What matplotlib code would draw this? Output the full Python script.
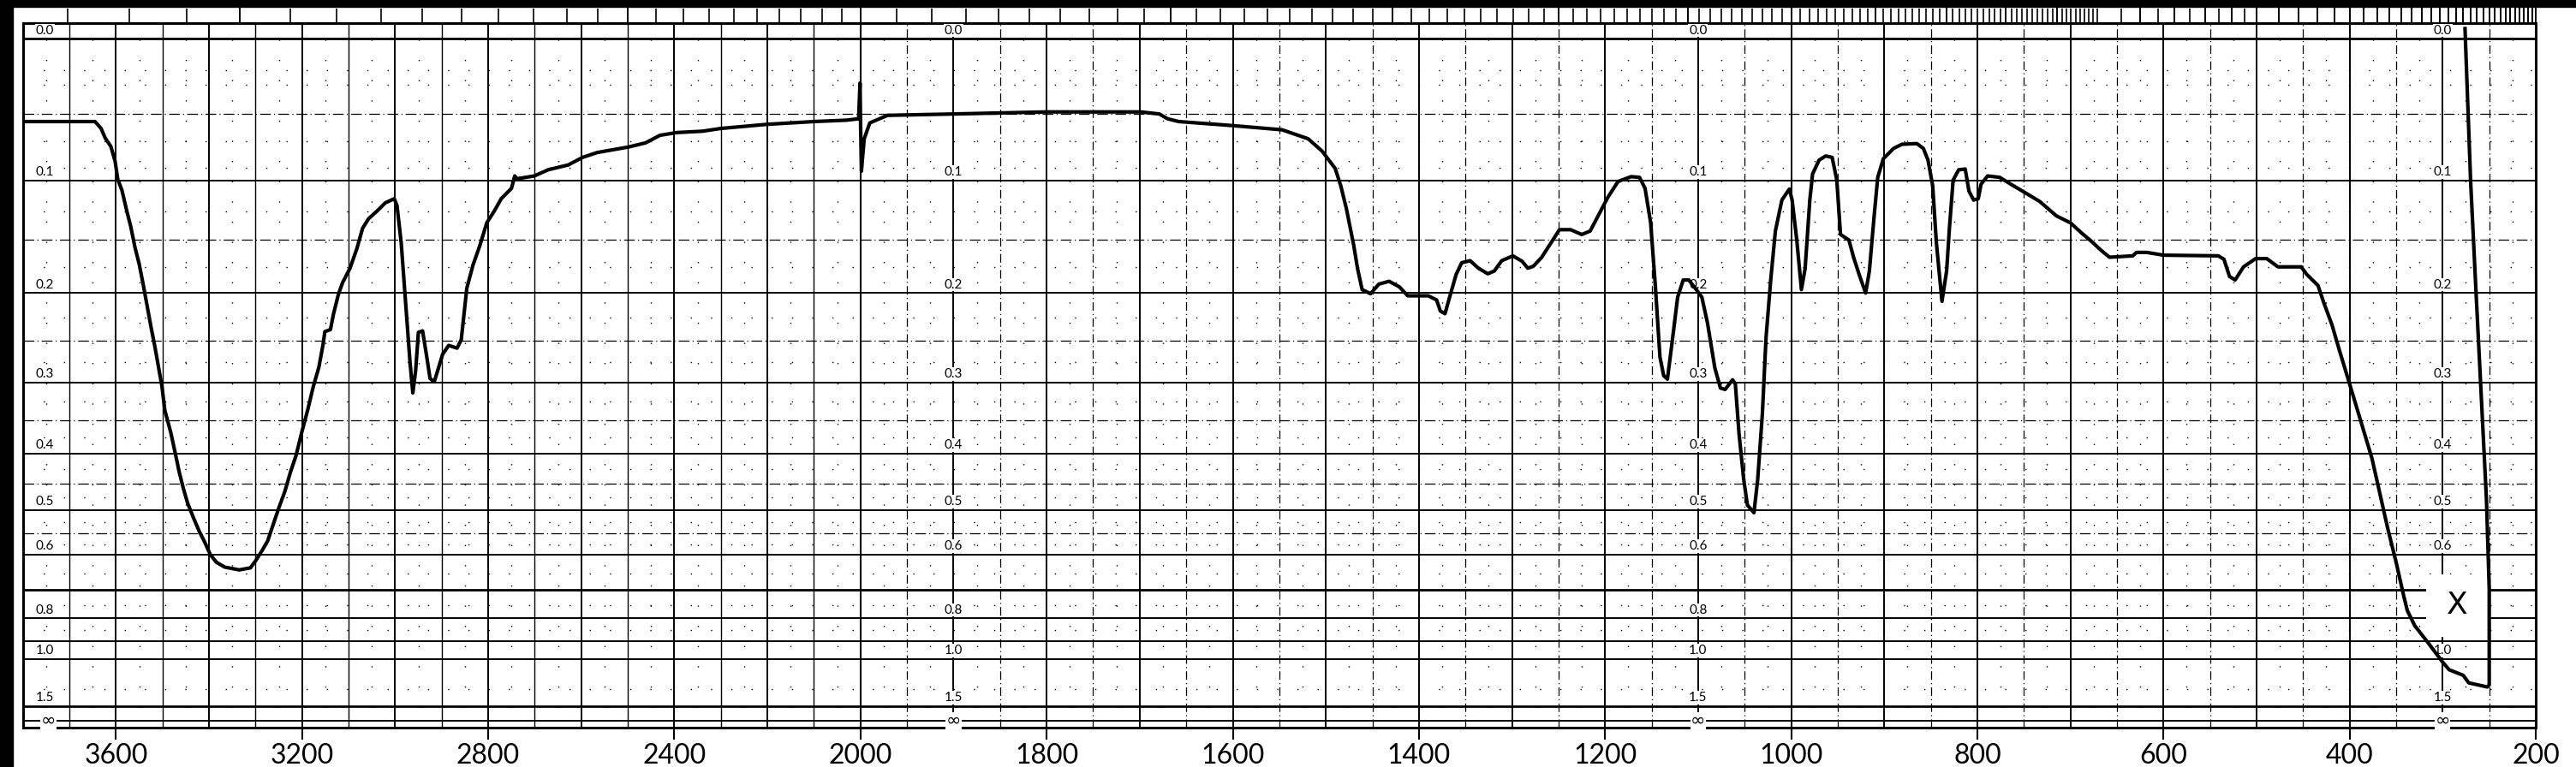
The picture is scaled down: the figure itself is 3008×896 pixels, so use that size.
import numpy as np
import matplotlib.pyplot as plt
from matplotlib.patches import Rectangle

plt.rcParams['font.family'] = ['Lato', 'DejaVu Sans']

# trace: wavenumber (cm-1) and transmittance (fraction)
wavenumber = [3800, 3645, 3632, 3623, 3611, 3602, 3596, 3587, 3577, 3568, 3559, 3550, 3541, 3534,
              3525, 3516, 3507, 3501, 3495, 3482, 3473, 3464, 3455, 3446, 3433, 3421, 3409, 3397,
              3384, 3366, 3335, 3311, 3299, 3286, 3274, 3262, 3250, 3237, 3225, 3213, 3201, 3188,
              3176, 3164, 3155, 3151, 3139, 3133, 3122, 3113, 3097, 3082, 3070, 3057, 3039, 3021,
              3002, 2996, 2987, 2978, 2968, 2962, 2956, 2950, 2941, 2932, 2925, 2916, 2907, 2898,
              2885, 2867, 2858, 2852, 2846, 2833, 2818, 2803, 2787, 2772, 2750, 2743, 2738, 2701,
              2671, 2628, 2597, 2566, 2499, 2462, 2431, 2395, 2339, 2300, 2200, 2100, 2030, 2004,
              2001, 2000, 1999, 1996, 1990, 1971, 1900, 1800, 1699, 1679, 1670, 1658, 1599, 1547,
              1519, 1504, 1490, 1484, 1478, 1470, 1466, 1461, 1452, 1443, 1432, 1421, 1412, 1390,
              1381, 1377, 1372, 1367, 1360, 1354, 1345, 1336, 1326, 1319, 1311, 1299, 1289, 1283,
              1277, 1268, 1258, 1249, 1237, 1225, 1216, 1209, 1197, 1186, 1172, 1163, 1157, 1151,
              1146, 1141, 1137, 1133, 1128, 1122, 1116, 1110, 1102, 1096, 1090, 1085, 1082, 1076,
              1071, 1063, 1060, 1056, 1051, 1047, 1040, 1036, 1031, 1027, 1022, 1017, 1010, 1002,
              999, 994, 989, 985, 980, 977, 970, 963, 956, 951, 947, 938, 933, 927,
              920, 916, 911, 907, 901, 890, 881, 865, 858, 853, 848, 844, 838, 833,
              830, 826, 820, 813, 809, 804, 799, 796, 789, 776, 764, 749, 733, 715,
              700, 687, 679, 667, 658, 633, 629, 618, 600, 541, 535, 529, 523, 514,
              501, 489, 477, 452, 446, 434, 428, 419, 411, 400, 388, 376, 367, 359,
              350, 342, 338, 330, 315, 300, 293, 278, 272, 252, 250, 250, 253, 259,
              265, 270, 276]
transmittance = [0.880, 0.880, 0.870, 0.856, 0.844, 0.823, 0.796, 0.780, 0.751, 0.727, 0.697, 0.673, 0.642, 0.616,
                 0.583, 0.552, 0.518, 0.495, 0.461, 0.428, 0.400, 0.371, 0.347, 0.326, 0.304, 0.285, 0.269, 0.251,
                 0.240, 0.233, 0.229, 0.232, 0.243, 0.257, 0.271, 0.295, 0.319, 0.343, 0.371, 0.395, 0.428, 0.461,
                 0.495, 0.523, 0.556, 0.575, 0.578, 0.599, 0.629, 0.646, 0.667, 0.696, 0.725, 0.739, 0.750, 0.762,
                 0.768, 0.758, 0.704, 0.621, 0.530, 0.486, 0.518, 0.574, 0.576, 0.538, 0.507, 0.502, 0.522, 0.542,
                 0.555, 0.551, 0.563, 0.600, 0.638, 0.671, 0.700, 0.733, 0.750, 0.768, 0.783, 0.801, 0.797, 0.801,
                 0.810, 0.817, 0.828, 0.835, 0.843, 0.849, 0.860, 0.864, 0.866, 0.870, 0.876, 0.880, 0.882, 0.884,
                 0.936, 0.884, 0.808, 0.855, 0.878, 0.889, 0.891, 0.894, 0.894, 0.891, 0.884, 0.880, 0.874, 0.868,
                 0.855, 0.837, 0.812, 0.787, 0.754, 0.700, 0.667, 0.636, 0.630, 0.644, 0.648, 0.640, 0.627, 0.627,
                 0.621, 0.605, 0.601, 0.625, 0.658, 0.675, 0.678, 0.667, 0.659, 0.663, 0.678, 0.685, 0.677, 0.667,
                 0.670, 0.683, 0.704, 0.723, 0.723, 0.716, 0.721, 0.739, 0.770, 0.793, 0.800, 0.799, 0.783, 0.733,
                 0.642, 0.538, 0.511, 0.506, 0.559, 0.625, 0.650, 0.650, 0.636, 0.625, 0.588, 0.547, 0.522, 0.493,
                 0.491, 0.505, 0.499, 0.426, 0.360, 0.323, 0.312, 0.360, 0.455, 0.567, 0.650, 0.721, 0.766, 0.782,
                 0.766, 0.708, 0.636, 0.667, 0.766, 0.804, 0.824, 0.830, 0.828, 0.795, 0.716, 0.708, 0.683, 0.658,
                 0.631, 0.663, 0.741, 0.799, 0.826, 0.841, 0.847, 0.848, 0.841, 0.824, 0.787, 0.704, 0.619, 0.663,
                 0.725, 0.795, 0.810, 0.811, 0.779, 0.766, 0.768, 0.789, 0.801, 0.799, 0.789, 0.777, 0.764, 0.743,
                 0.733, 0.717, 0.708, 0.693, 0.683, 0.685, 0.690, 0.690, 0.686, 0.685, 0.680, 0.655, 0.650, 0.669,
                 0.681, 0.681, 0.669, 0.669, 0.658, 0.642, 0.618, 0.585, 0.548, 0.499, 0.445, 0.391, 0.337, 0.289,
                 0.240, 0.192, 0.170, 0.148, 0.122, 0.095, 0.084, 0.076, 0.065, 0.059, 0.062, 0.202, 0.332, 0.494,
                 0.655, 0.794, 1.015]

# absorbance grid of the chart paper
abs_solid = [0.0, 0.1, 0.2, 0.3, 0.4, 0.5, 0.6, 0.7, 0.8, 0.9, 1.0, 1.5, 2.0]
abs_dashdot = [0.05, 0.15, 0.25, 0.35, 0.45, 0.55]
abs_dotted = [0.02, 0.03, 0.07, 0.09, 0.125, 0.175, 0.225, 0.275, 0.325,
              0.375, 0.425, 0.475, 0.525, 0.575, 0.65, 0.75, 0.85, 1.25]
abs_labels = ['0.0', '0.1', '0.2', '0.3', '0.4', '0.5', '0.6', '0.8', '1.0', '1.5']
abs_label_vals = [0.0, 0.1, 0.2, 0.3, 0.4, 0.5, 0.6, 0.8, 1.0, 1.5]
label_columns = [1900, 1100, 300]

bottom_ticks = [3600, 3200, 2800, 2400, 2000, 1800, 1600, 1400, 1200, 1000, 800, 600, 400, 200]
microns = (list(np.round(np.arange(2.7, 15.0, 0.1), 1)) + [15.5, 16, 16.5, 17, 17.5, 18, 18.5, 19, 19.5]
           + list(range(20, 51)))


def fwd(w):
    w = np.asarray(w, dtype=float)
    return np.where(w > 2000, 2000 + (w - 2000) / 2, w)


def inv(u):
    u = np.asarray(u, dtype=float)
    return np.where(u > 2000, 2000 + (u - 2000) * 2, u)


W, H = 3008, 896
fig = plt.figure(figsize=(W / 100, H / 100), dpi=100)
ax = fig.add_axes([26.7 / W, 1 - 850 / H, (2961 - 26.7) / W, (850 - 26.7) / H])
ax.set_xscale('function', functions=(fwd, inv))
ax.set_xlim(3800, 200)
ax.set_ylim(0, 1.0233)

fig.patches.append(Rectangle((0, 0), 15 / W, 1, transform=fig.transFigure, color='black', zorder=10))
fig.patches.append(Rectangle((0, 1 - 8 / H), 1, 8 / H, transform=fig.transFigure, color='black', zorder=10))

dots = (0, (1, 16))

# vertical grid
for w in range(3700, 2000, -100):
    ax.axvline(w, color='black', lw=1.4 if w % 200 == 0 else 1.0, zorder=1)
    ax.axvline(w - 50, color='black', lw=1.0, ls=dots, zorder=1)
ax.axvline(3750, color='black', lw=1.0, ls=dots, zorder=1)
ax.axvline(2000, color='black', lw=1.5, zorder=1)
for w in range(1950, 200, -50):
    if w % 100 == 0:
        ax.axvline(w, color='black', lw=1.4, zorder=1)
    else:
        ax.axvline(w, color='black', lw=0.9, ls=(0, (8, 3, 1, 3)), zorder=1)
for w in range(1975, 200, -50):
    ax.axvline(w, color='black', lw=1.0, ls=dots, zorder=1)

# horizontal grid (linear in transmittance, labelled in absorbance)
for a in abs_solid:
    ax.axhline(10 ** -a, color='black', lw=2.0 if a in (0.0, 0.7, 1.5) else 1.4, zorder=1)
for a in abs_dashdot:
    ax.axhline(10 ** -a, color='black', lw=0.9, ls=(0, (10, 3, 1, 3)), zorder=1)
for a in abs_dotted:
    ax.axhline(10 ** -a, color='black', lw=1.0, ls=dots, zorder=1)

box = dict(facecolor='white', edgecolor='none', pad=0.5)
for lab, a in zip(abs_labels, abs_label_vals):
    ax.annotate(lab, (3772, 10 ** -a), xytext=(0, 2), textcoords='offset points',
                ha='left', va='bottom', fontsize=11, bbox=box, zorder=3)
    for wc in label_columns:
        if wc == 300 and lab == '0.8':
            continue
        ax.annotate(lab, (wc, 10 ** -a), xytext=(0, 2), textcoords='offset points',
                    ha='center', va='bottom', fontsize=11, bbox=box, zorder=3)
for wc in [3745] + label_columns:
    ax.text(wc, 0.01, '∞', ha='center', va='center', fontsize=15, family='DejaVu Sans',
            bbox=dict(facecolor='white', edgecolor='none', pad=0.3), zorder=3)

# white notch with the X mark
ax.add_patch(Rectangle((251, 0.132), 318 - 251, 0.222 - 0.132, facecolor='white',
                       edgecolor='none', zorder=2))
ax.text(284, 0.178, 'X', ha='center', va='center', fontsize=26, color='black',
        family='DejaVu Sans', zorder=3)

ax.plot(wavenumber, transmittance, color='black', lw=3.0, zorder=5, solid_joinstyle='round')

for s in ax.spines.values():
    s.set_linewidth(2.2)
ax.set_yticks([])
ax.set_xticks(bottom_ticks)
ax.set_xticklabels([str(t) for t in bottom_ticks], fontsize=23)
ax.tick_params(axis='x', direction='out', length=10, width=1.5, pad=3)
ax.xaxis.set_minor_locator(plt.NullLocator())

# micrometre ticks along the top edge
ax2 = ax.twiny()
ax2.set_xscale('function', functions=(fwd, inv))
ax2.set_xlim(3800, 200)
ax2.set_xticks([1e4 / m for m in microns if float(m).is_integer()])
ax2.set_xticks([1e4 / m for m in microns if not float(m).is_integer()], minor=True)
ax2.tick_params(axis='x', which='major', direction='out', length=18, width=1.4, labeltop=False)
ax2.tick_params(axis='x', which='minor', direction='out', length=12, width=1.2, labeltop=False)
ax2.set_yticks([])
for s in ax2.spines.values():
    s.set_visible(False)

fig.savefig('out.png', dpi=100, facecolor='white')
